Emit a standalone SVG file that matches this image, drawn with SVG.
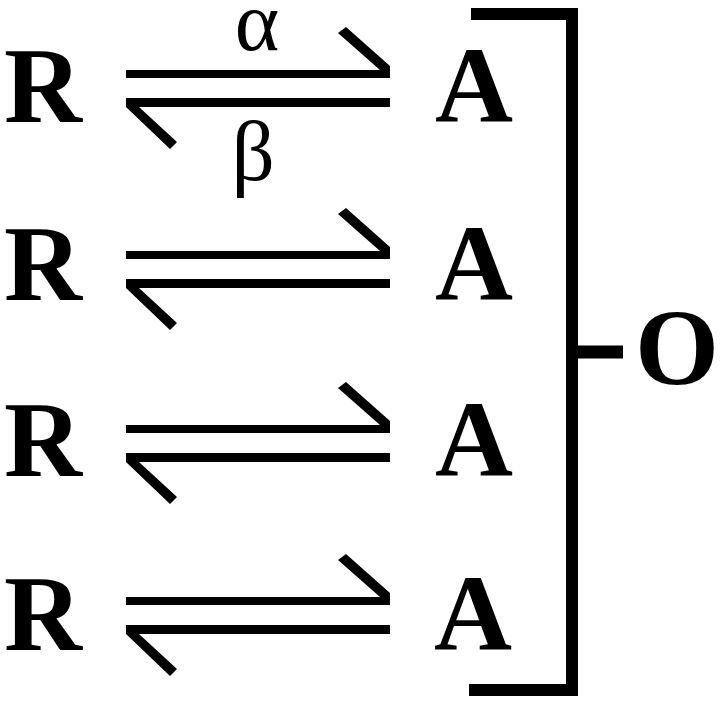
<svg xmlns="http://www.w3.org/2000/svg" xmlns:xlink="http://www.w3.org/1999/xlink" width="720" height="702" viewBox="0 0 720 702">
  <style>
    .big { font-family: "Liberation Serif", "Times New Roman", serif; font-weight: bold; font-size: 108px; fill: #000; text-anchor: middle; }
    .greek { font-family: "Liberation Serif", "Times New Roman", serif; font-size: 85px; fill: #000; text-anchor: middle; }
    .bar { fill: none; stroke: #000; stroke-linejoin: miter; stroke-linecap: butt; }
  </style>
  <defs>
    <g id="eq">
      <polygon points="126,-4 380,-4 338,-41 346,-47 390,-8 390,4 126,4" fill="#000"/>
      <polygon points="126,24 390,24 390,33 139,33 177,68 170,75 126,33" fill="#000"/>
    </g>
  </defs>
  <rect width="720" height="702" fill="#fff"/>
  <g id="connectors">
    <use xlink:href="#eq" transform="translate(0,74)"/>
    <use xlink:href="#eq" transform="translate(0,255)"/>
    <use xlink:href="#eq" transform="translate(0,429)"/>
    <use xlink:href="#eq" transform="translate(0,601)"/>
    <polyline class="bar" points="471,14 572,14 572,690 469,690" stroke-width="12"/>
    <line class="bar" x1="572" y1="352" x2="623" y2="352" stroke-width="13"/>
    <text class="greek" x="257" y="50">α</text>
    <text class="greek" x="253" y="180">β</text>
  </g>
  <g id="R1"><text class="big" x="43" y="122">R</text></g>
  <g id="R2"><text class="big" x="43" y="300">R</text></g>
  <g id="R3"><text class="big" x="43" y="476">R</text></g>
  <g id="R4"><text class="big" x="43" y="650">R</text></g>
  <g id="A1"><text class="big" x="474" y="122">A</text></g>
  <g id="A2"><text class="big" x="474" y="300">A</text></g>
  <g id="A3"><text class="big" x="474" y="476">A</text></g>
  <g id="A4"><text class="big" x="473" y="650">A</text></g>
  <g id="O"><text class="big" x="677" y="384">O</text></g>
</svg>
